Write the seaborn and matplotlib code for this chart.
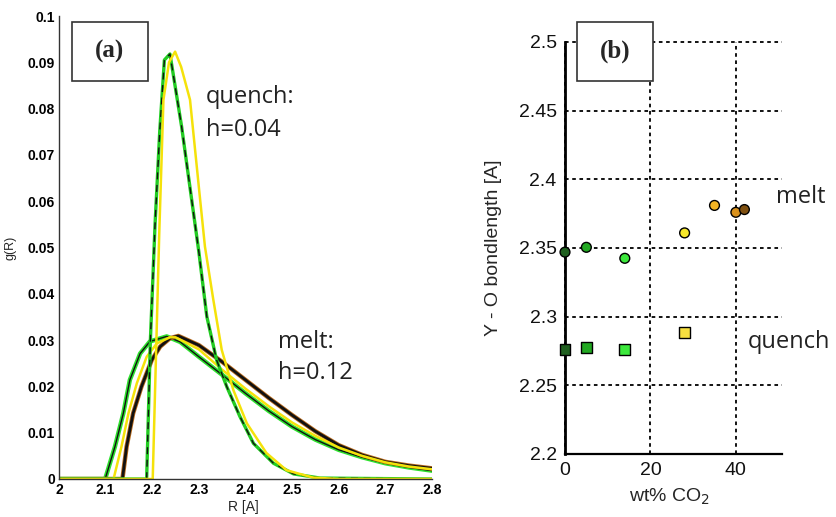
import numpy as np
import pandas as pd
import matplotlib
matplotlib.use("Agg")
import matplotlib.pyplot as plt
import seaborn as sns
from matplotlib.patches import Rectangle

# =========================
# DATA
# =========================

# panel (a): radial distribution g(R), quench h=0.04
quench_green_r = [2.0, 2.188, 2.196, 2.206, 2.216, 2.226, 2.238, 2.263, 2.300, 2.317, 2.338,
                  2.360, 2.388, 2.417, 2.460, 2.503, 2.560, 2.8]
quench_green_g = [0, 0, 0.030, 0.055, 0.075, 0.0905, 0.0918, 0.0761, 0.0490, 0.0351, 0.0257,
                  0.0199, 0.0135, 0.0077, 0.0034, 0.0011, 0.0002, 0]

quench_yellow_r = [2.0, 2.201, 2.215, 2.224, 2.236, 2.249, 2.262, 2.281, 2.300, 2.313, 2.331,
                   2.349, 2.374, 2.403, 2.445, 2.488, 2.545, 2.600, 2.8]
quench_yellow_g = [0, 0, 0.053, 0.0819, 0.0900, 0.0923, 0.0890, 0.0819, 0.0630, 0.0502, 0.0387,
                   0.0279, 0.0192, 0.0120, 0.0056, 0.0019, 0.0003, 0, 0]

# melt h=0.12
melt_green_r = [2.0, 2.099, 2.120, 2.138, 2.152, 2.174, 2.195, 2.231, 2.260, 2.30, 2.35, 2.40,
                2.45, 2.50, 2.55, 2.60, 2.65, 2.70, 2.75, 2.80]
melt_green_g = [0, 0, 0.0070, 0.0142, 0.0214, 0.0271, 0.0297, 0.0308, 0.0296, 0.0264, 0.0225,
                0.0185, 0.0147, 0.0113, 0.0085, 0.0063, 0.0047, 0.0034, 0.0025, 0.0018]

melt_yellow_r = [2.0, 2.117, 2.134, 2.149, 2.167, 2.188, 2.210, 2.238, 2.250, 2.30, 2.35, 2.40,
                 2.45, 2.50, 2.55, 2.60, 2.65, 2.70, 2.75, 2.80]
melt_yellow_g = [0, 0, 0.0070, 0.0142, 0.0207, 0.0264, 0.0293, 0.0306, 0.0306, 0.0280, 0.0236,
                 0.0195, 0.0157, 0.0122, 0.0093, 0.0068, 0.0050, 0.0036, 0.0027, 0.0021]

melt_brown_r = [2.0, 2.136, 2.145, 2.159, 2.177, 2.199, 2.217, 2.238, 2.256, 2.30, 2.35, 2.40,
                2.45, 2.50, 2.55, 2.60, 2.65, 2.70, 2.75, 2.80]
melt_brown_g = [0, 0, 0.0070, 0.0142, 0.0200, 0.0257, 0.0286, 0.0304, 0.0309, 0.0289, 0.0253,
                0.0214, 0.0175, 0.0138, 0.0103, 0.0073, 0.0052, 0.0037, 0.0029, 0.0023]

# panel (b): Y-O bond length vs CO2 content
melt_co2 = [0, 5, 14, 28, 35, 40, 42]
melt_bond = [2.347, 2.3505, 2.3425, 2.361, 2.381, 2.376, 2.378]
melt_colors = ['#1f5f1f', '#22a822', '#3ce83c', '#f7e82a', '#f2b424', '#d9911c', '#7f5010']

quench_co2 = [0, 5, 14, 28]
quench_bond = [2.276, 2.2775, 2.276, 2.2885]
quench_colors = ['#1f5f1f', '#22a822', '#3ce83c', '#f7e040']

x_ticks_a = [2, 2.1, 2.2, 2.3, 2.4, 2.5, 2.6, 2.7, 2.8]
x_labels_a = ['2', '2.1', '2.2', '2.3', '2.4', '2.5', '2.6', '2.7', '2.8']
y_ticks_a = [0, 0.01, 0.02, 0.03, 0.04, 0.05, 0.06, 0.07, 0.08, 0.09, 0.1]
y_labels_a = ['0', '0.01', '0.02', '0.03', '0.04', '0.05', '0.06', '0.07', '0.08', '0.09', '0.1']

x_ticks_b = [0, 20, 40]
y_ticks_b = [2.2, 2.25, 2.3, 2.35, 2.4, 2.45, 2.5]
y_labels_b = ['2.2', '2.25', '2.3', '2.35', '2.4', '2.45', '2.5']


# =========================
# FIGURE
# =========================

sns.set_style("white")
plt.rcParams['font.family'] = ['Liberation Sans', 'DejaVu Sans']

W, H = 836, 517
fig = plt.figure(figsize=(W / 100, H / 100), dpi=100)


def fx(px):
    return px / W


def fy(py):
    return 1 - py / H


# ---------- panel (a) ----------
ax1 = fig.add_axes([fx(59), fy(479), fx(432) - fx(59), fy(16) - fy(479)])

sns.lineplot(x=melt_green_r, y=melt_green_g, ax=ax1, color='#2ee02e', lw=3.2, sort=False)
sns.lineplot(x=melt_green_r, y=melt_green_g, ax=ax1, color='#111111', lw=1.0, sort=False)
sns.lineplot(x=melt_brown_r, y=melt_brown_g, ax=ax1, color='#b86a1c', lw=3.2, sort=False)
sns.lineplot(x=melt_brown_r, y=melt_brown_g, ax=ax1, color='#111111', lw=2.0, sort=False)
sns.lineplot(x=melt_yellow_r, y=melt_yellow_g, ax=ax1, color='#f5e20a', lw=1.8, sort=False)

sns.lineplot(x=quench_green_r, y=quench_green_g, ax=ax1, color='#22cc22', lw=2.4, sort=False)
sns.lineplot(x=quench_green_r, y=quench_green_g, ax=ax1, color='#111111', lw=1.0,
             linestyle=(0, (5, 4)), sort=False)
sns.lineplot(x=quench_yellow_r, y=quench_yellow_g, ax=ax1, color='#f5e20a', lw=1.8, sort=False)

ax1.set_xlim(2, 2.8)
ax1.set_ylim(0, 0.1)
ax1.set_xticks(x_ticks_a)
ax1.set_xticklabels(x_labels_a)
ax1.set_yticks(y_ticks_a)
ax1.set_yticklabels(y_labels_a)
ax1.tick_params(direction='in', length=3, width=1, labelsize=10, pad=3, colors='black')
for lab in ax1.get_xticklabels() + ax1.get_yticklabels():
    lab.set_fontweight('bold')
for s in ['top', 'right']:
    ax1.spines[s].set_visible(False)
for s in ['left', 'bottom']:
    ax1.spines[s].set_color('#333333')
    ax1.spines[s].set_linewidth(1.0)
ax1.set_xlabel('R [A]', fontsize=10)
ax1.xaxis.set_label_coords((243 - 59) / (432 - 59), -(500 - 479) / (479 - 16))
ax1.set_ylabel('g(R)', fontsize=9)
ax1.yaxis.set_label_coords(-(59 - 17) / (432 - 59), (479 - 248) / (479 - 16))

# ---------- panel (b) ----------
ax2 = fig.add_axes([fx(565), fy(454), fx(782) - fx(565), fy(42) - fy(454)])

df_melt = pd.DataFrame({'co2': melt_co2, 'bond': melt_bond, 'id': [str(i) for i in range(len(melt_co2))]})
df_quench = pd.DataFrame({'co2': quench_co2, 'bond': quench_bond, 'id': [str(i) for i in range(len(quench_co2))]})

sns.scatterplot(data=df_melt, x='co2', y='bond', hue='id', palette=melt_colors, marker='o',
                s=50, edgecolor='black', linewidth=1.0, legend=False, ax=ax2, zorder=5, clip_on=False)
sns.scatterplot(data=df_quench, x='co2', y='bond', hue='id', palette=quench_colors, marker='s',
                s=60, edgecolor='black', linewidth=1.0, legend=False, ax=ax2, zorder=5, clip_on=False)

ax2.set_xlim(0, 50.8)
ax2.set_ylim(2.2, 2.5)
ax2.set_xticks(x_ticks_b)
ax2.set_yticks(y_ticks_b)
ax2.set_yticklabels(y_labels_b)
ax2.grid(True, color='black', linestyle=(0, (2, 2)), lw=1.3)
ax2.set_axisbelow(True)
for gl in ax2.get_xgridlines() + ax2.get_ygridlines():
    gl.set_clip_on(False)
ax2.tick_params(length=0, labelsize=14, pad=6, colors='#111111')
for s in ['top', 'right']:
    ax2.spines[s].set_visible(False)
ax2.spines['left'].set_linewidth(2.0)
ax2.spines['left'].set_color('black')
ax2.spines['bottom'].set_linewidth(1.6)
ax2.spines['bottom'].set_color('black')
ax2.set_xlabel('wt% CO$_2$', fontsize=14)
ax2.xaxis.set_label_coords((669 - 565) / (782 - 565), -(487 - 454) / (454 - 42))
ax2.set_ylabel('Y - O bondlength [A]', fontsize=14)
ax2.yaxis.set_label_coords(-(565 - 502) / (782 - 565), (454 - 248) / (454 - 42))

# ---------- boxes and annotations ----------
for (x0, x1, lab) in [(72, 148, '(a)'), (577, 653, '(b)')]:
    fig.patches.append(Rectangle((fx(x0), fy(81)), fx(x1) - fx(x0), fy(22) - fy(81),
                                 transform=fig.transFigure, facecolor='white',
                                 edgecolor='#333333', lw=1.2, zorder=2))
    fig.text(fx((x0 + x1) / 2), fy(51), lab, ha='center', va='center', fontsize=18,
             fontweight='bold', family='Liberation Serif', zorder=3)

note_font = dict(fontsize=17, family='Open Sans', color='#222222', va='center', ha='left')
fig.text(fx(206), fy(97), 'quench:', **note_font)
fig.text(fx(206), fy(130), 'h=0.04', **note_font)
fig.text(fx(278), fy(342), 'melt:', **note_font)
fig.text(fx(278), fy(373), 'h=0.12', **note_font)
fig.text(fx(776), fy(197), 'melt', **note_font)
fig.text(fx(748), fy(342), 'quench', **note_font)

fig.savefig('out.png', dpi=100)
